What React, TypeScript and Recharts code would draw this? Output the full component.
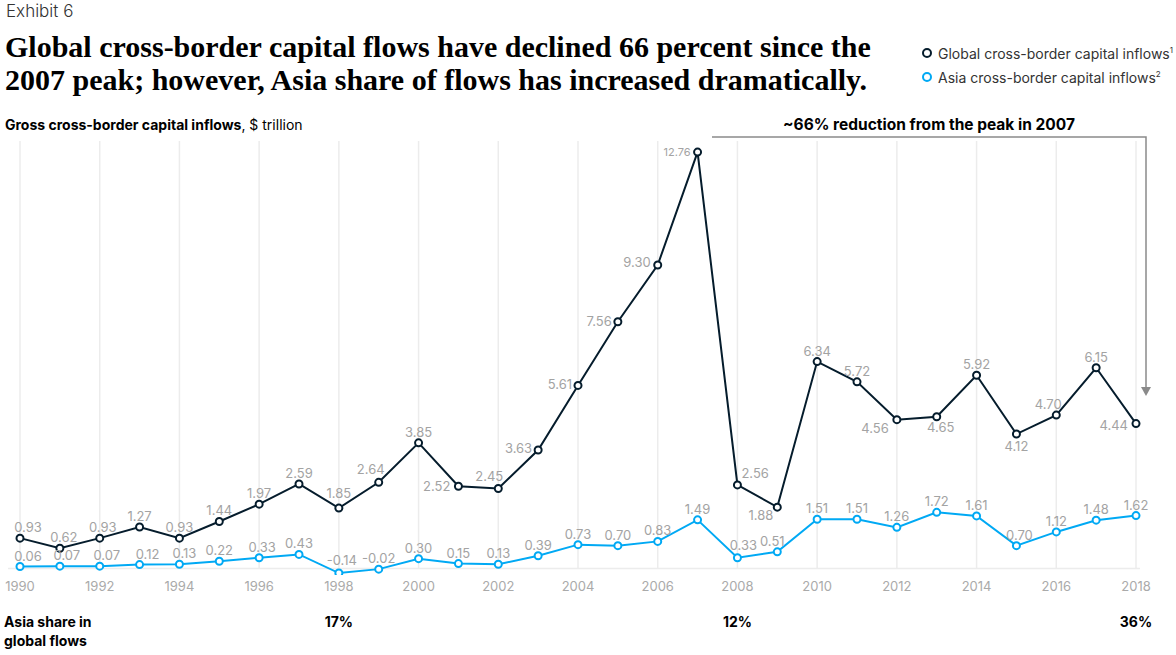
import { LabelList, Line, LineChart, ReferenceLine, XAxis, YAxis } from "recharts";

const NAVY = "#051c2c";
const CYAN = "#00a9f4";
const LABEL_GREY = "#a3a3a3";
const GRID = "#ececec";
const FONT = "Inter, 'Noto Sans', sans-serif";

const YEARS = [
  1990, 1991, 1992, 1993, 1994, 1995, 1996, 1997, 1998, 1999, 2000, 2001, 2002, 2003, 2004,
  2005, 2006, 2007, 2008, 2009, 2010, 2011, 2012, 2013, 2014, 2015, 2016, 2017, 2018,
];
const GLOBAL_INFLOWS = [
  0.93, 0.62, 0.93, 1.27, 0.93, 1.44, 1.97, 2.59, 1.85, 2.64, 3.85, 2.52, 2.45, 3.63, 5.61,
  7.56, 9.3, 12.76, 2.56, 1.88, 6.34, 5.72, 4.56, 4.65, 5.92, 4.12, 4.7, 6.15, 4.44,
];
const ASIA_INFLOWS = [
  0.06, 0.07, 0.07, 0.12, 0.13, 0.22, 0.33, 0.43, -0.14, -0.02, 0.3, 0.15, 0.13, 0.39, 0.73,
  0.7, 0.83, 1.49, 0.33, 0.51, 1.51, 1.51, 1.26, 1.72, 1.61, 0.7, 1.12, 1.48, 1.62,
];
const YEAR_TICKS = [
  1990, 1992, 1994, 1996, 1998, 2000, 2002, 2004, 2006, 2008, 2010, 2012, 2014, 2016, 2018,
];
const SHARE_YEARS = [1998, 2008, 2018];
const SHARE_LABELS = ["17%", "12%", "36%"];

const Y_MIN = -0.2;
const Y_MAX = 13.1;

const data = YEARS.map((year, i) => ({
  year,
  global: GLOBAL_INFLOWS[i],
  asia: ASIA_INFLOWS[i],
}));

type Spot = { dx?: number; dy?: number; anchor?: "start" | "middle" | "end"; size?: number };

// label nudges, keyed by year (default: centred just above the dot)
const GLOBAL_SPOTS: Record<number, Spot> = {
  1990: { dx: 8 },
  1991: { dx: 4 },
  1992: { dx: 3 },
  1998: { dy: -10 },
  1999: { dx: -8, dy: -8 },
  2001: { dx: -8, dy: 5, anchor: "end" },
  2002: { dx: -9, dy: -8 },
  2003: { dx: -6, dy: 3, anchor: "end" },
  2004: { dx: -6, dy: 4, anchor: "end" },
  2005: { dx: -6, dy: 4, anchor: "end" },
  2006: { dx: -7, dy: 2, anchor: "end" },
  2007: { dx: -7, dy: 4, anchor: "end", size: 11 },
  2008: { dx: 4, dy: -7, anchor: "start" },
  2009: { dx: -4, dy: 13, anchor: "end" },
  2012: { dx: -8, dy: 13, anchor: "end" },
  2013: { dx: 4, dy: 15 },
  2015: { dy: 17 },
  2016: { dx: -8 },
  2018: { dx: -8, dy: 6, anchor: "end" },
};
const ASIA_SPOTS: Record<number, Spot> = {
  1990: { dx: 8 },
  1991: { dx: 7 },
  1992: { dx: 7 },
  1993: { dx: 8 },
  1994: { dx: 5 },
  1996: { dx: 3 },
  1998: { dx: 3, dy: -8 },
  2008: { dx: 6, dy: -8 },
  2009: { dx: -5 },
  2015: { dx: 3 },
};

function makeLabel(spots: Record<number, Spot>) {
  return (props: any) => {
    const { x, y, value, index } = props;
    const s = spots[YEARS[index]] ?? {};
    return (
      <text
        x={Number(x) + (s.dx ?? 0)}
        y={Number(y) + (s.dy ?? -6)}
        textAnchor={s.anchor ?? "middle"}
        fill={LABEL_GREY}
        fontSize={s.size ?? 13}
        fontFamily={FONT}
      >
        {Number(value).toFixed(2)}
      </text>
    );
  };
}

function LegendItem({ color, label, sup }: { color: string; label: string; sup: string }) {
  return (
    <div style={{ display: "flex", alignItems: "center", height: 24 }}>
      <svg width={17} height={14}>
        <circle cx={6} cy={7} r={4} fill="#fff" stroke={color} strokeWidth={2} />
      </svg>
      <span style={{ fontSize: 14, color: "#333" }}>
        {label}
        <sup style={{ fontSize: 8 }}>{sup}</sup>
      </span>
    </div>
  );
}

export default function App() {
  return (
    <div
      style={{
        position: "relative",
        width: 1176,
        height: 655,
        background: "#fff",
        fontFamily: FONT,
        overflow: "hidden",
      }}
    >
      <style>{`body{margin:0}`}</style>

      <div style={{ position: "absolute", left: 6, top: 2, fontSize: 17, lineHeight: "18px", color: "#333", fontWeight: 300 }}>
        Exhibit 6
      </div>
      <div
        style={{
          position: "absolute",
          left: 5,
          top: 30,
          fontFamily: "'Liberation Serif', serif",
          fontWeight: 700,
          fontSize: 30,
          lineHeight: "33px",
          color: "#000",
          whiteSpace: "nowrap",
        }}
      >
        Global cross-border capital flows have declined 66 percent since the
        <br />
        2007 peak; however, Asia share of flows has increased dramatically.
      </div>

      <div style={{ position: "absolute", left: 921, top: 41 }}>
        <LegendItem color={NAVY} label="Global cross-border capital inflows" sup="1" />
        <LegendItem color={CYAN} label="Asia cross-border capital inflows" sup="2" />
      </div>

      <div style={{ position: "absolute", left: 5, top: 118, fontSize: 14, lineHeight: "14px", color: "#000" }}>
        <b>Gross cross-border capital inflows</b>, $ trillion
      </div>

      <div
        style={{
          position: "absolute",
          left: 712,
          width: 434,
          top: 117,
          textAlign: "center",
          fontSize: 15.5,
          lineHeight: "15px",
          fontWeight: 700,
          color: "#000",
        }}
      >
        ~66% reduction from the peak in 2007
      </div>

      <div style={{ position: "absolute", left: 0, top: 0 }}>
        <LineChart
          width={1176}
          height={655}
          data={data}
          margin={{ top: 141, right: 40, bottom: 20, left: 20 }}
        >
          <XAxis
            dataKey="year"
            type="number"
            domain={[1990, 2018]}
            ticks={YEAR_TICKS}
            axisLine={false}
            tickLine={false}
            tickSize={0}
            tickMargin={7}
            height={30}
            tick={{ fill: "#aaaaaa", fontSize: 13, fontFamily: FONT }}
          />
          <XAxis
            xAxisId="share"
            dataKey="year"
            type="number"
            domain={[1990, 2018]}
            ticks={SHARE_YEARS}
            tickFormatter={(v: number) => SHARE_LABELS[SHARE_YEARS.indexOf(v)] ?? ""}
            axisLine={false}
            tickLine={false}
            tickSize={0}
            tickMargin={12}
            height={30}
            tick={{ fill: "#000", fontSize: 14, fontWeight: 700, fontFamily: FONT }}
          />
          <YAxis hide type="number" domain={[Y_MIN, Y_MAX]} allowDataOverflow />

          {YEAR_TICKS.map((yr) => (
            <ReferenceLine
              key={yr}
              segment={[
                { x: yr, y: 0 },
                { x: yr, y: Y_MAX },
              ]}
              stroke={GRID}
              strokeWidth={1.5}
            />
          ))}
          <ReferenceLine
            segment={[
              { x: 1989.7, y: 0 },
              { x: 2018.1, y: 0 },
            ]}
            ifOverflow="visible"
            stroke={GRID}
            strokeWidth={1.5}
          />

          <Line
            dataKey="asia"
            stroke={CYAN}
            strokeWidth={2}
            dot={{ r: 3.5, fill: "#fff", stroke: CYAN, strokeWidth: 2 }}
            activeDot={false}
            isAnimationActive={false}
          >
            <LabelList dataKey="asia" content={makeLabel(ASIA_SPOTS)} />
          </Line>
          <Line
            dataKey="global"
            stroke={NAVY}
            strokeWidth={2}
            dot={{ r: 3.5, fill: "#fff", stroke: NAVY, strokeWidth: 2 }}
            activeDot={false}
            isAnimationActive={false}
          >
            <LabelList dataKey="global" content={makeLabel(GLOBAL_SPOTS)} />
          </Line>
        </LineChart>
      </div>

      <svg style={{ position: "absolute", left: 0, top: 0 }} width={1176} height={655}>
        <polyline points="712,137 1146,137 1146,388" fill="none" stroke="#8a8a8a" strokeWidth={1.5} />
        <polygon points="1141,387 1151,387 1146,396" fill="#8a8a8a" />
      </svg>

      <div
        style={{
          position: "absolute",
          left: 4,
          top: 612,
          fontSize: 14,
          lineHeight: "19px",
          fontWeight: 700,
          color: "#000",
        }}
      >
        Asia share in
        <br />
        global flows
      </div>
    </div>
  );
}
